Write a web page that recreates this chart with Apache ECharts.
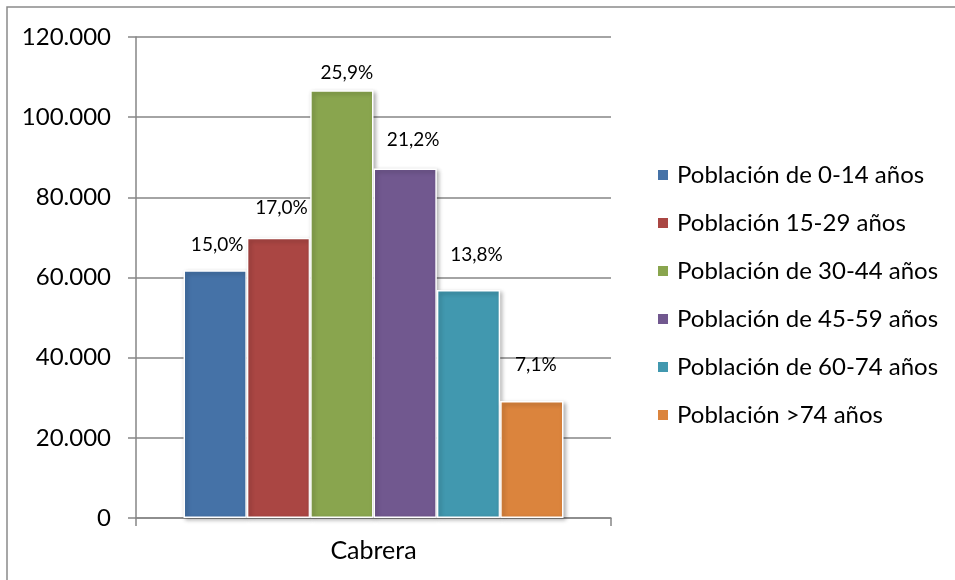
<!DOCTYPE html>
<html>
<head>
<meta charset="utf-8">
<script src="https://cdn.jsdelivr.net/npm/echarts@6/dist/echarts.min.js"></script>
<style>
html,body{margin:0;padding:0;background:#fff;}
#chart{width:955px;height:580px;}
</style>
</head>
<body>
<div id="chart"></div>
<script>
// ---- data ----
var categories = ['Cabrera'];
var seriesNames = [
  'Población de 0-14 años',
  'Población 15-29 años',
  'Población de 30-44 años',
  'Población de 45-59 años',
  'Población de 60-74 años',
  'Población >74 años'
];
var values = [61800, 69900, 106700, 87200, 56900, 29200];
var percents = [15.0, 17.0, 25.9, 21.2, 13.8, 7.1];
var yTicks = [0, 20000, 40000, 60000, 80000, 100000, 120000];

// ---- styles ----
var colors = ['#4572A7', '#AA4643', '#89A54E', '#71588F', '#4198AF', '#DB843D'];
var labelOffsets = [[2, -11], [3, -15], [5, -3], [8, -14], [8, -21], [4, -22]];
var FONT = 'Lato';

function fmtThousands(v) {
  return String(v).replace(/\B(?=(\d{3})+(?!\d))/g, '.');
}

var series = seriesNames.map(function (name, i) {
  return {
    name: name,
    type: 'bar',
    barGap: '0%',
    barCategoryGap: '20%',
    data: [values[i]],
    itemStyle: {
      color: colors[i],
      borderColor: '#ffffff',
      borderWidth: 1.5,
      shadowColor: 'rgba(0,0,0,0.3)',
      shadowBlur: 4,
      shadowOffsetX: 2,
      shadowOffsetY: 2
    },
    label: {
      show: true,
      position: 'top',
      distance: 5,
      offset: labelOffsets[i],
      formatter: function () { return percents[i].toFixed(1).replace('.', ',') + '%'; },
      color: '#000',
      fontFamily: FONT,
      fontSize: 19
    },
    emphasis: { disabled: true }
  };
});

var chart = echarts.init(document.getElementById('chart'), null, { renderer: 'canvas' });
chart.setOption({
  animation: false,
  backgroundColor: '#fff',
  textStyle: { fontFamily: FONT },
  graphic: [{
    type: 'rect',
    shape: { x: 7, y: 7, width: 1200, height: 1200 },
    style: { fill: 'none', stroke: '#8a8a8a', lineWidth: 1.5 },
    silent: true
  }],
  grid: { left: 136, right: 344, top: 37, bottom: 62, containLabel: false },
  legend: {
    orient: 'vertical',
    left: 656,
    top: 163,
    padding: 0,
    icon: 'rect',
    itemWidth: 12,
    itemHeight: 12,
    itemGap: 24,
    textStyle: { fontFamily: FONT, fontSize: 24, color: '#000', lineHeight: 24, padding: [0, 0, 0, 3] },
    data: seriesNames
  },
  xAxis: {
    type: 'category',
    data: categories,
    axisLine: { show: true, lineStyle: { color: '#868686', width: 1.5 } },
    axisTick: { show: true, length: 8, lineStyle: { color: '#868686', width: 1.5 } },
    axisLabel: { color: '#000', fontFamily: FONT, fontSize: 25, margin: 20 }
  },
  yAxis: {
    type: 'value',
    min: yTicks[0],
    max: yTicks[yTicks.length - 1],
    interval: yTicks[1] - yTicks[0],
    axisLine: { show: true, lineStyle: { color: '#868686', width: 1.5 } },
    axisTick: { show: true, length: 8, lineStyle: { color: '#868686', width: 1.5 } },
    splitLine: { show: true, lineStyle: { color: '#868686', width: 1.5 } },
    axisLabel: {
      color: '#000', fontFamily: FONT, fontSize: 24, margin: 25,
      formatter: function (v) { return fmtThousands(v); }
    }
  },
  series: series
});
</script>
</body>
</html>
